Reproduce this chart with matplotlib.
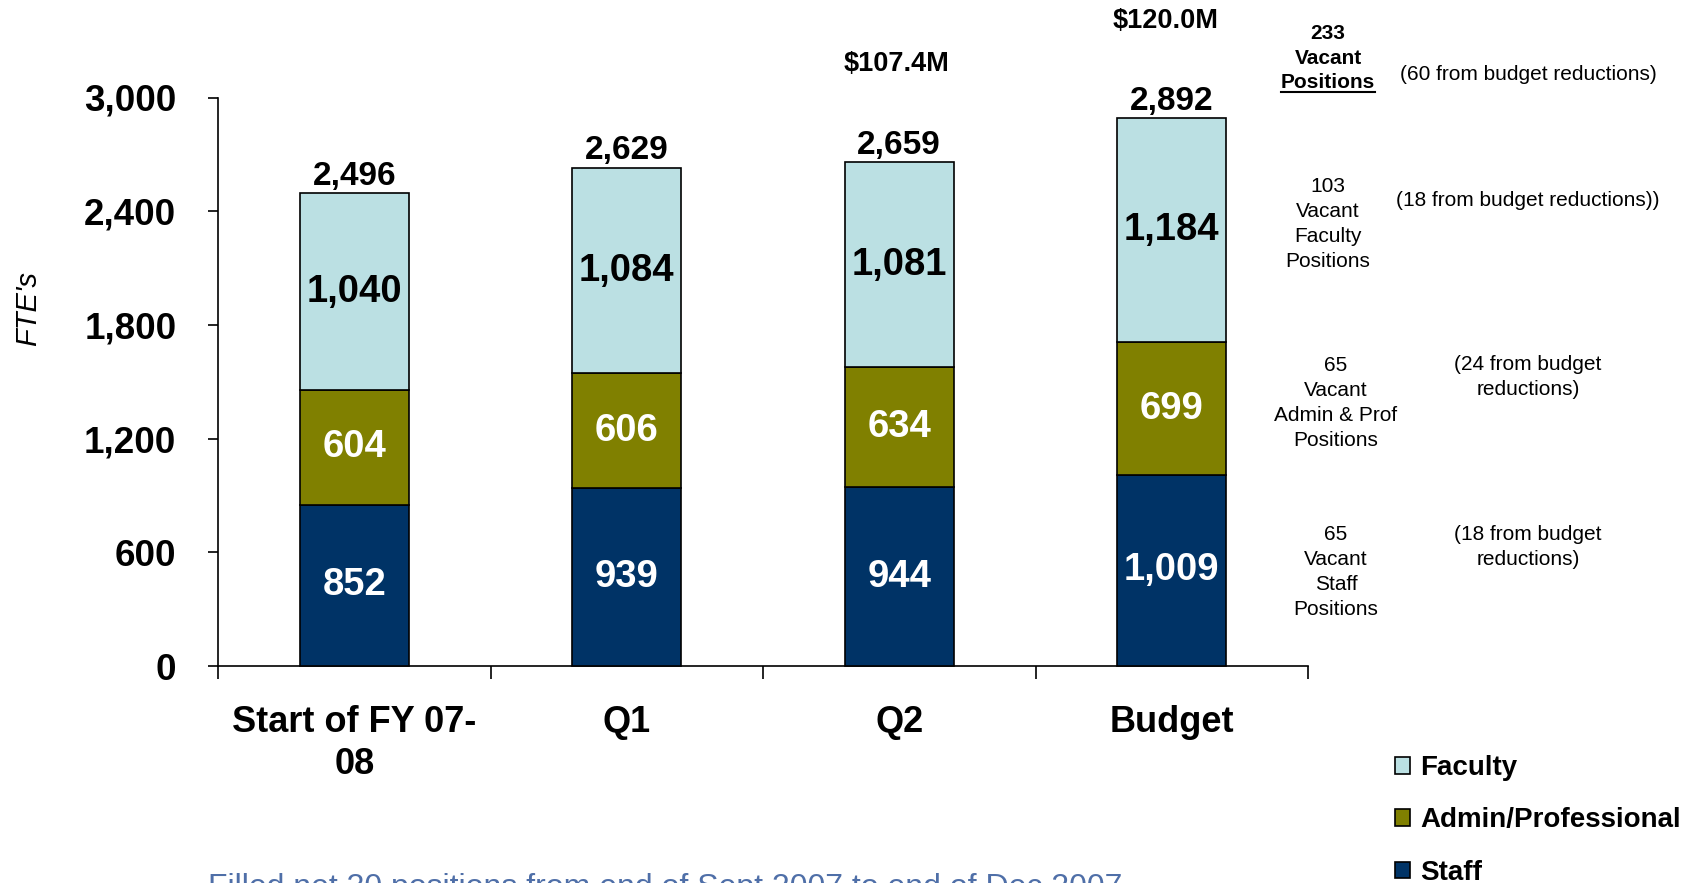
import matplotlib
matplotlib.use("Agg")
import matplotlib.pyplot as plt
from matplotlib.lines import Line2D
import numpy as np

plt.rcParams['font.family'] = ['Liberation Sans', 'DejaVu Sans']

categories = ["Start of FY 07-\n08", "Q1", "Q2", "Budget"]
staff = [852, 939, 944, 1009]
admin = [604, 606, 634, 699]
faculty = [1040, 1084, 1081, 1184]
series_names = ["Staff", "Admin/Professional", "Faculty"]
colors = ["#003366", "#808000", "#BBE0E3"]
label_colors = ["white", "white", "black"]
yticks = [0, 600, 1200, 1800, 2400, 3000]

W, H = 1698, 883
fig = plt.figure(figsize=(W / 100, H / 100), dpi=100)
ax = fig.add_axes([218 / W, 1 - 666 / H, (1308 - 218) / W, (666 - 97.5) / H])

x = np.arange(len(categories))
bottoms = np.zeros(len(categories))
bars = []
for vals, name, col, lc in zip([staff, admin, faculty], series_names, colors, label_colors):
    b = ax.bar(x, vals, width=0.4, bottom=bottoms, color=col, edgecolor='black',
               linewidth=1.2, label=name, clip_on=False, zorder=3)
    ax.bar_label(b, labels=[f"{v:,}" for v in vals], label_type='center',
                 color=lc, fontsize=27.5, fontweight='bold')
    bars.append(b)
    bottoms = bottoms + np.array(vals)

totals = bottoms
for xi, t in zip(x, totals):
    ax.annotate(f"{int(t):,}", (xi, t), xytext=(0, 1), textcoords='offset points',
                ha='center', va='bottom', fontsize=24, fontweight='bold', annotation_clip=False)

ax.set_xlim(-0.5, 3.5)
ax.set_ylim(0, 3000)
ax.set_yticks(yticks)
ax.set_yticklabels([f"{v:,}" for v in yticks], fontsize=26.5, fontweight='bold')
ax.tick_params(axis='y', length=7, width=1.2, pad=23, direction='out')
ax.set_xticks(x)
ax.set_xticklabels(categories, fontsize=26, fontweight='bold', linespacing=1.25)
ax.tick_params(axis='x', which='major', length=0, pad=28)
ax.set_xticks(np.arange(-0.5, 4.0, 1.0), minor=True)
ax.tick_params(axis='x', which='minor', length=9, width=1.2, direction='out')
for s in ['top', 'right']:
    ax.spines[s].set_visible(False)
for s in ['left', 'bottom']:
    ax.spines[s].set_linewidth(1.2)

fig.text(28 / W, 1 - 309 / H, "FTE's", rotation=90, fontsize=21, style='italic',
         ha='center', va='center')

# top annotations
def ftxt(px, py, s, **kw):
    return fig.text(px / W, 1 - py / H, s, ha='center', va='center', **kw)

LS = 1.38
ftxt(897, 64, "$107.4M", fontsize=19.5, fontweight='bold')
ftxt(1166, 21, "$120.0M", fontsize=19.5, fontweight='bold')
ftxt(1328, 46, "233\nVacant", fontsize=15, fontweight='bold', linespacing=LS)
pos_t = ftxt(1328, 83, "Positions", fontsize=15, fontweight='bold')
ftxt(1528, 74, "(60 from budget reductions)", fontsize=15)
ftxt(1328, 224, "103\nVacant\nFaculty\nPositions", fontsize=15, linespacing=LS)
ftxt(1528, 201, "(18 from budget reductions))", fontsize=15)
ftxt(1336, 403, "65\nVacant\nAdmin & Prof\nPositions", fontsize=15, linespacing=LS)
ftxt(1528, 377, "(24 from budget\nreductions)", fontsize=15, linespacing=LS)
ftxt(1336, 572, "65\nVacant\nStaff\nPositions", fontsize=15, linespacing=LS)
ftxt(1528, 547, "(18 from budget\nreductions)", fontsize=15, linespacing=LS)

fig.text(208 / W, 1 - 896 / H, "Filled net 30 positions from end of Sept 2007 to end of Dec 2007",
         ha='left', va='baseline', fontsize=23, color='#4F6FA8')

handles = [bars[2], bars[1], bars[0]]
fig.legend(handles, [series_names[2], series_names[1], series_names[0]],
           loc='upper left', bbox_to_anchor=(1395 / W, 1 - 755 / H), frameon=False,
           prop={'size': 20, 'weight': 'bold'}, handlelength=0.55, handleheight=0.55,
           handletextpad=0.35, labelspacing=0.95, borderpad=0, borderaxespad=0)

fig.canvas.draw()
bb = pos_t.get_window_extent()
y_ul = bb.y0 + 1
fig.add_artist(Line2D([bb.x0 / W, bb.x1 / W], [y_ul / H, y_ul / H], color='black', lw=1.5,
                      transform=fig.transFigure))

fig.savefig("out.png", dpi=100)
